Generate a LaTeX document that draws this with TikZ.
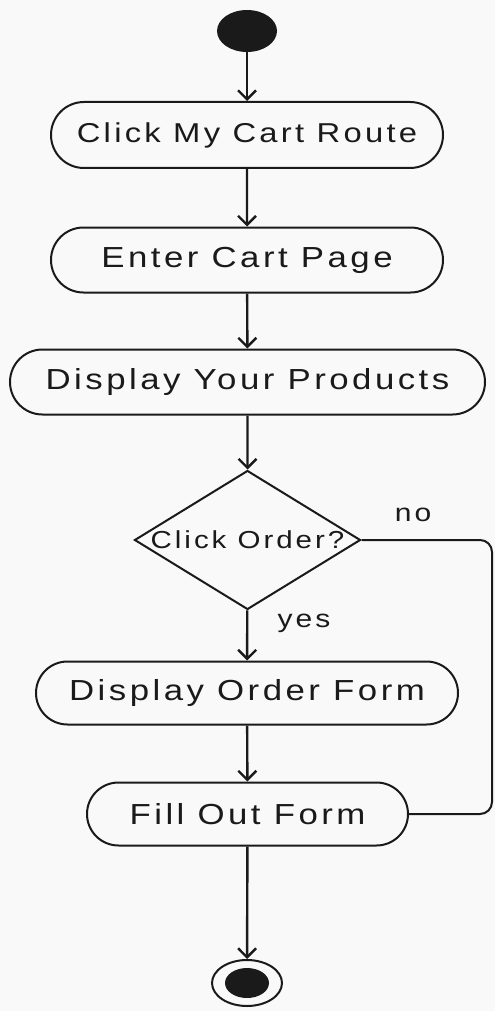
\documentclass[tikz,border=0pt]{standalone}
\usepackage{fontspec}
\setmainfont{Liberation Sans}[LetterSpace=12,FakeStretch=1.2]
\usetikzlibrary{shapes.misc,shapes.geometric,arrows.meta}
\definecolor{ink}{HTML}{1A1A1A}
\definecolor{paper}{HTML}{F9F9F9}
\tikzset{
  activity/.style={draw=ink, line width=2pt, rounded rectangle, inner sep=0pt,
    font=\fontsize{29}{31}\selectfont, text=ink},
  smalltext/.style={font=\fontsize{27.3}{29}\selectfont},
  decision/.style={draw=ink, line width=2pt, diamond, inner sep=0pt},
  decisiontext/.style={inner sep=0pt, font=\fontsize{24.6}{26}\selectfont, text=ink},
  flow/.style={draw=ink, line width=2.4pt, -{Straight Barb[length=9pt,width=18pt,line width=2.4pt]}},
  plainflow/.style={draw=ink, line width=2pt, rounded corners=12pt},
  guard/.style={font=\fontsize{25}{27}\selectfont, text=ink}
}
\begin{document}
\begin{tikzpicture}[x=1pt,y=-1pt]
  % page
  \fill[paper] (0,0) rectangle (495,1011);
  \useasboundingbox (0,0) rectangle (495,1011);

  % initial state
  \node[ellipse, fill=ink, minimum width=60pt, minimum height=42pt, inner sep=0pt] (start) at (247,31) {};

  % activities
  \node[activity, smalltext, minimum width=392pt, minimum height=66pt] (route) at (247,135) {Click My Cart Route};
  \node[activity, minimum width=392pt, minimum height=65pt] (page) at (247,260) {Enter Cart Page};
  \node[activity, minimum width=475pt, minimum height=65pt] (prod) at (247.5,382) {Display Your Products};
  \node[decision, minimum width=226pt, minimum height=139pt] (order) at (247.5,540) {};
  \node[decisiontext] (ordertxt) at (order.center) {Click Order?};
  \node[activity, minimum width=422pt, minimum height=63pt] (form) at (247,693) {Display Order Form};
  \node[activity, minimum width=321pt, minimum height=63pt] (fill) at (247.5,814) {Fill Out Form};

  % final state
  \node[ellipse, draw=ink, line width=2pt, minimum width=70pt, minimum height=46pt, inner sep=0pt] (end) at (247,983) {};
  \fill[ink] (end.center) ellipse [x radius=22pt, y radius=15pt];

  % guards
  \node[guard] (nolbl) at (413,515) {no};
  \node[guard] (yeslbl) at (304,623) {yes};

  % control flow
  \coordinate (bend) at (492,540);
  \draw[flow] (start) -- (route);
  \draw[flow] (route) -- (page);
  \draw[flow] (page) -- (prod);
  \draw[flow] (prod) -- (order);
  \draw[flow] (order) -- (form);
  \draw[flow] (form) -- (fill);
  \draw[flow] (fill) -- (end);
  \draw[plainflow] (order.east) -- (bend) |- (fill.east);
\end{tikzpicture}
\end{document}
